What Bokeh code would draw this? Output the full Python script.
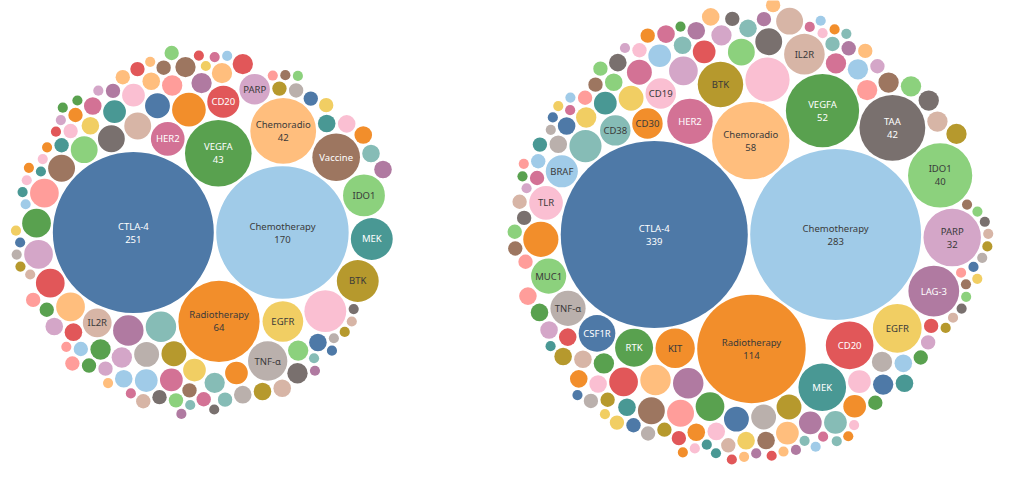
import math
from bokeh.plotting import figure
from bokeh.models import ColumnDataSource, Range1d
from bokeh.core.properties import value
from bokeh.embed import file_html
from bokeh.resources import INLINE

# ---------------- data ----------------
left_labels = ["CTLA-4", "Chemotherapy", "Radiotherapy", "VEGFA", "Chemoradio", "Vaccine",
               "IDO1", "MEK", "BTK", "EGFR", "TNF-α", "HER2", "CD20", "PARP", "IL2R"]
left_values = [251, 170, 64, 43, 42, 22, 17, 17, 17, 16, 15, 11, 10, 9, 8]
left_other_values = [17, 11, 9, 9, 8, 8, 8, 8, 8, 7, 7, 7, 7, 6, 6, 6,
                     5, 5, 5, 5, 5, 5,
                     4, 4, 4, 4, 4, 4, 4, 4, 4, 4,
                     3, 3, 3, 3, 3, 3, 3, 3, 3, 3, 3, 3, 3, 3, 3,
                     2, 2, 2, 2, 2, 2, 2, 2, 2, 2, 2, 2, 2, 2, 2, 2, 2, 2, 2, 2,
                     2, 2, 2, 2,
                     1, 1, 1, 1, 1, 1, 1, 1, 1, 1, 1, 1, 1, 1, 1, 1, 1, 1, 1, 1,
                     1, 1, 1, 1, 1, 1, 1, 1, 1, 1, 1, 1, 1, 1, 1, 1, 1, 1]

right_labels = ["CTLA-4", "Chemotherapy", "Radiotherapy", "Chemoradio", "VEGFA", "TAA", "IDO1",
                "PARP", "LAG-3", "EGFR", "CD20", "MEK", "HER2", "BTK", "IL2R", "KIT", "RTK",
                "CSF1R", "TNF-α", "MUC1", "TLR", "BRAF", "CD38", "CD30", "CD19"]
right_values = [339, 283, 114, 58, 52, 42, 40, 32, 25, 23, 22, 22, 20, 20, 16, 15, 14,
                13, 12, 12, 11, 10, 9, 9, 9]
right_other_values = [19, 12, 10, 9, 9, 8, 8, 8, 7, 7, 7, 7, 7, 6, 6, 6, 6, 6,
                      5, 5, 5, 5, 5, 5, 5, 5,
                      4, 4, 4, 4, 4, 4, 4, 4, 4, 4, 4, 4, 4,
                      3, 3, 3, 3, 3, 3, 3, 3, 3, 3, 3, 3, 3, 3, 3, 3, 3, 3, 3, 3,
                      3, 3, 3, 3,
                      2, 2, 2, 2, 2, 2, 2, 2, 2, 2, 2, 2, 2, 2, 2, 2, 2, 2, 2, 2,
                      2, 2, 2, 2, 2, 2, 2, 2, 2, 2, 2, 2,
                      1, 1, 1, 1, 1, 1, 1, 1, 1, 1, 1, 1, 1, 1, 1, 1, 1, 1, 1, 1,
                      1, 1, 1, 1, 1, 1, 1, 1, 1, 1, 1, 1, 1, 1, 1, 1, 1, 1, 1, 1,
                      1, 1, 1, 1, 1, 1, 1, 1]

# ---------------- styles ----------------
PALETTE = ["#4E79A7", "#A0CBE8", "#F28E2B", "#FFBE7D", "#59A14F", "#8CD17D", "#B6992D",
           "#F1CE63", "#499894", "#86BCB6", "#E15759", "#FF9D9A", "#79706E", "#BAB0AC",
           "#D37295", "#FABFD2", "#B07AA1", "#D4A6C8", "#9D7660", "#D7B5A6"]
CAT_COLOR = {
    "CTLA-4": "#4E79A7", "Chemotherapy": "#A0CBE8", "Radiotherapy": "#F28E2B",
    "Chemoradio": "#FFBE7D", "VEGFA": "#59A14F", "IDO1": "#8CD17D", "MEK": "#499894",
    "BTK": "#B6992D", "EGFR": "#F1CE63", "TNF-α": "#BAB0AC", "CD20": "#E15759",
    "HER2": "#D37295", "PARP": "#D4A6C8", "IL2R": "#D7B5A6", "Vaccine": "#9D7660",
    "TAA": "#79706E", "LAG-3": "#B07AA1", "CD38": "#86BCB6", "CD30": "#F28E2B",
    "CD19": "#FABFD2", "TLR": "#FABFD2", "BRAF": "#A0CBE8", "MUC1": "#8CD17D",
    "CSF1R": "#4E79A7", "RTK": "#59A14F", "KIT": "#F28E2B",
}
DARK_FILLS = {"#4E79A7", "#59A14F", "#E15759", "#D37295", "#9D7660", "#499894",
              "#79706E", "#B07AA1"}
K = 5.08          # pixels per sqrt(value)
PAD = 1.2         # gap between bubbles in px
FONT = "Noto Sans"


# ---------------- circle packing (front-chain) ----------------
class Node:
    __slots__ = ("c", "next", "prev")

    def __init__(self, c):
        self.c = c
        self.next = None
        self.prev = None


def place(b, a, c):
    dx = b[0] - a[0]
    dy = b[1] - a[1]
    d2 = dx * dx + dy * dy
    if d2:
        a2 = (a[2] + c[2]) ** 2
        b2 = (b[2] + c[2]) ** 2
        if a2 > b2:
            x = (d2 + b2 - a2) / (2 * d2)
            y = math.sqrt(max(0.0, b2 / d2 - x * x))
            c[0] = b[0] - x * dx - y * dy
            c[1] = b[1] - x * dy + y * dx
        else:
            x = (d2 + a2 - b2) / (2 * d2)
            y = math.sqrt(max(0.0, a2 / d2 - x * x))
            c[0] = a[0] + x * dx - y * dy
            c[1] = a[1] + x * dy + y * dx
    else:
        c[0] = a[0] + c[2]
        c[1] = a[1]


def intersects(a, b):
    dr = a[2] + b[2] - 1e-6
    dx = b[0] - a[0]
    dy = b[1] - a[1]
    return dr > 0 and dr * dr > dx * dx + dy * dy


def score(node):
    a = node.c
    b = node.next.c
    ab = a[2] + b[2]
    dx = (a[0] * b[2] + b[0] * a[2]) / ab
    dy = (a[1] * b[2] + b[1] * a[2]) / ab
    return dx * dx + dy * dy


def pack(circles):
    n = len(circles)
    a = circles[0]
    a[0], a[1] = 0.0, 0.0
    if n == 1:
        return
    b = circles[1]
    a[0] = -b[2]
    b[0], b[1] = a[2], 0.0
    if n == 2:
        return
    c = circles[2]
    place(b, a, c)
    a, b, c = Node(a), Node(b), Node(c)
    a.next = b; c.prev = b
    b.next = c; a.prev = c
    c.next = a; b.prev = a
    i = 3
    cut_at = -1
    while i < n:
        ci = circles[i]
        place(a.c, b.c, ci)
        c = Node(ci)
        j, k = b.next, a.prev
        sj, sk = b.c[2], a.c[2]
        restart = False
        while True:
            if sj <= sk:
                if intersects(j.c, c.c):
                    b = j
                    a.next = b
                    b.prev = a
                    restart = True
                    break
                sj += j.c[2]
                j = j.next
            else:
                if intersects(k.c, c.c):
                    a = k
                    a.next = b
                    b.prev = a
                    restart = True
                    break
                sk += k.c[2]
                k = k.prev
            if j is k.next:
                break
        if restart:
            cut_at = i
            continue
        c.prev = a
        c.next = b
        b.prev = c
        a.next = c
        if cut_at == i:
            # the chain was closed: start again from the pair nearest the centre
            b = c
            aa = score(a)
            node = c.next
            while node is not b:
                ca = score(node)
                if ca < aa:
                    a, aa = node, ca
                node = node.next
            b = a.next
        else:
            # keep winding around the same neighbour
            a = c
        i += 1


def build(labels, values, others, tx, ty):
    items = [(lab, v, CAT_COLOR[lab]) for lab, v in zip(labels, values)]
    for i, v in enumerate(others):
        items.append(("", v, PALETTE[(15 + 7 * i) % 20]))
    items.sort(key=lambda t: -t[1])
    circles = [[0.0, 0.0, K * math.sqrt(v) + PAD] for _, v, _ in items]
    pack(circles)
    rr = [K * math.sqrt(v) for _, v, _ in items]
    # anchor: the contact point of the two largest bubbles
    c0, c1 = circles[0], circles[1]
    mx = ((c0[0] + rr[0]) + (c1[0] - rr[1])) / 2
    my = (c0[1] + c1[1]) / 2
    ox, oy = tx - mx, ty - my
    xs = [c[0] + ox for c in circles]
    ys = [c[1] + oy for c in circles]
    return items, xs, ys, rr


W, H = 1008, 480
p = figure(width=W, height=H, output_backend="svg", toolbar_location=None,
           x_range=Range1d(0, W), y_range=Range1d(H, 0), min_border=0)
p.axis.visible = False
p.grid.visible = False
p.outline_line_color = None
p.background_fill_color = "white"

for labels, values, others, tx, ty in [
        (left_labels, left_values, left_other_values, 214.5, 232),
        (right_labels, right_values, right_other_values, 748.5, 234)]:
    items, xs, ys, rr = build(labels, values, others, tx, ty)
    src = ColumnDataSource(dict(x=xs, y=ys, r=rr, color=[t[2] for t in items]))
    p.circle(x="x", y="y", radius="r", source=src, fill_color="color", line_color=None)

    one = dict(x=[], y=[], t=[], c=[])
    two_n = dict(x=[], y=[], t=[], c=[])
    two_v = dict(x=[], y=[], t=[], c=[])
    for (lab, v, col), x, y in zip(items, xs, ys):
        if not lab:
            continue
        tc = "#ffffff" if col in DARK_FILLS else "#3a3a3a"
        if v >= 30:
            for d, t in ((two_n, lab), (two_v, str(v))):
                d["x"].append(x); d["y"].append(y); d["t"].append(t); d["c"].append(tc)
        else:
            one["x"].append(x); one["y"].append(y); one["t"].append(lab); one["c"].append(tc)
    for d, off in ((one, 0), (two_n, -6.5), (two_v, 6.5)):
        p.text(x="x", y="y", text="t", source=ColumnDataSource(d), text_color="c",
               text_font=value(FONT), text_font_size="9.5px", text_align="center",
               text_baseline="middle", y_offset=off)

open("out.html", "w").write(file_html(p, INLINE))
